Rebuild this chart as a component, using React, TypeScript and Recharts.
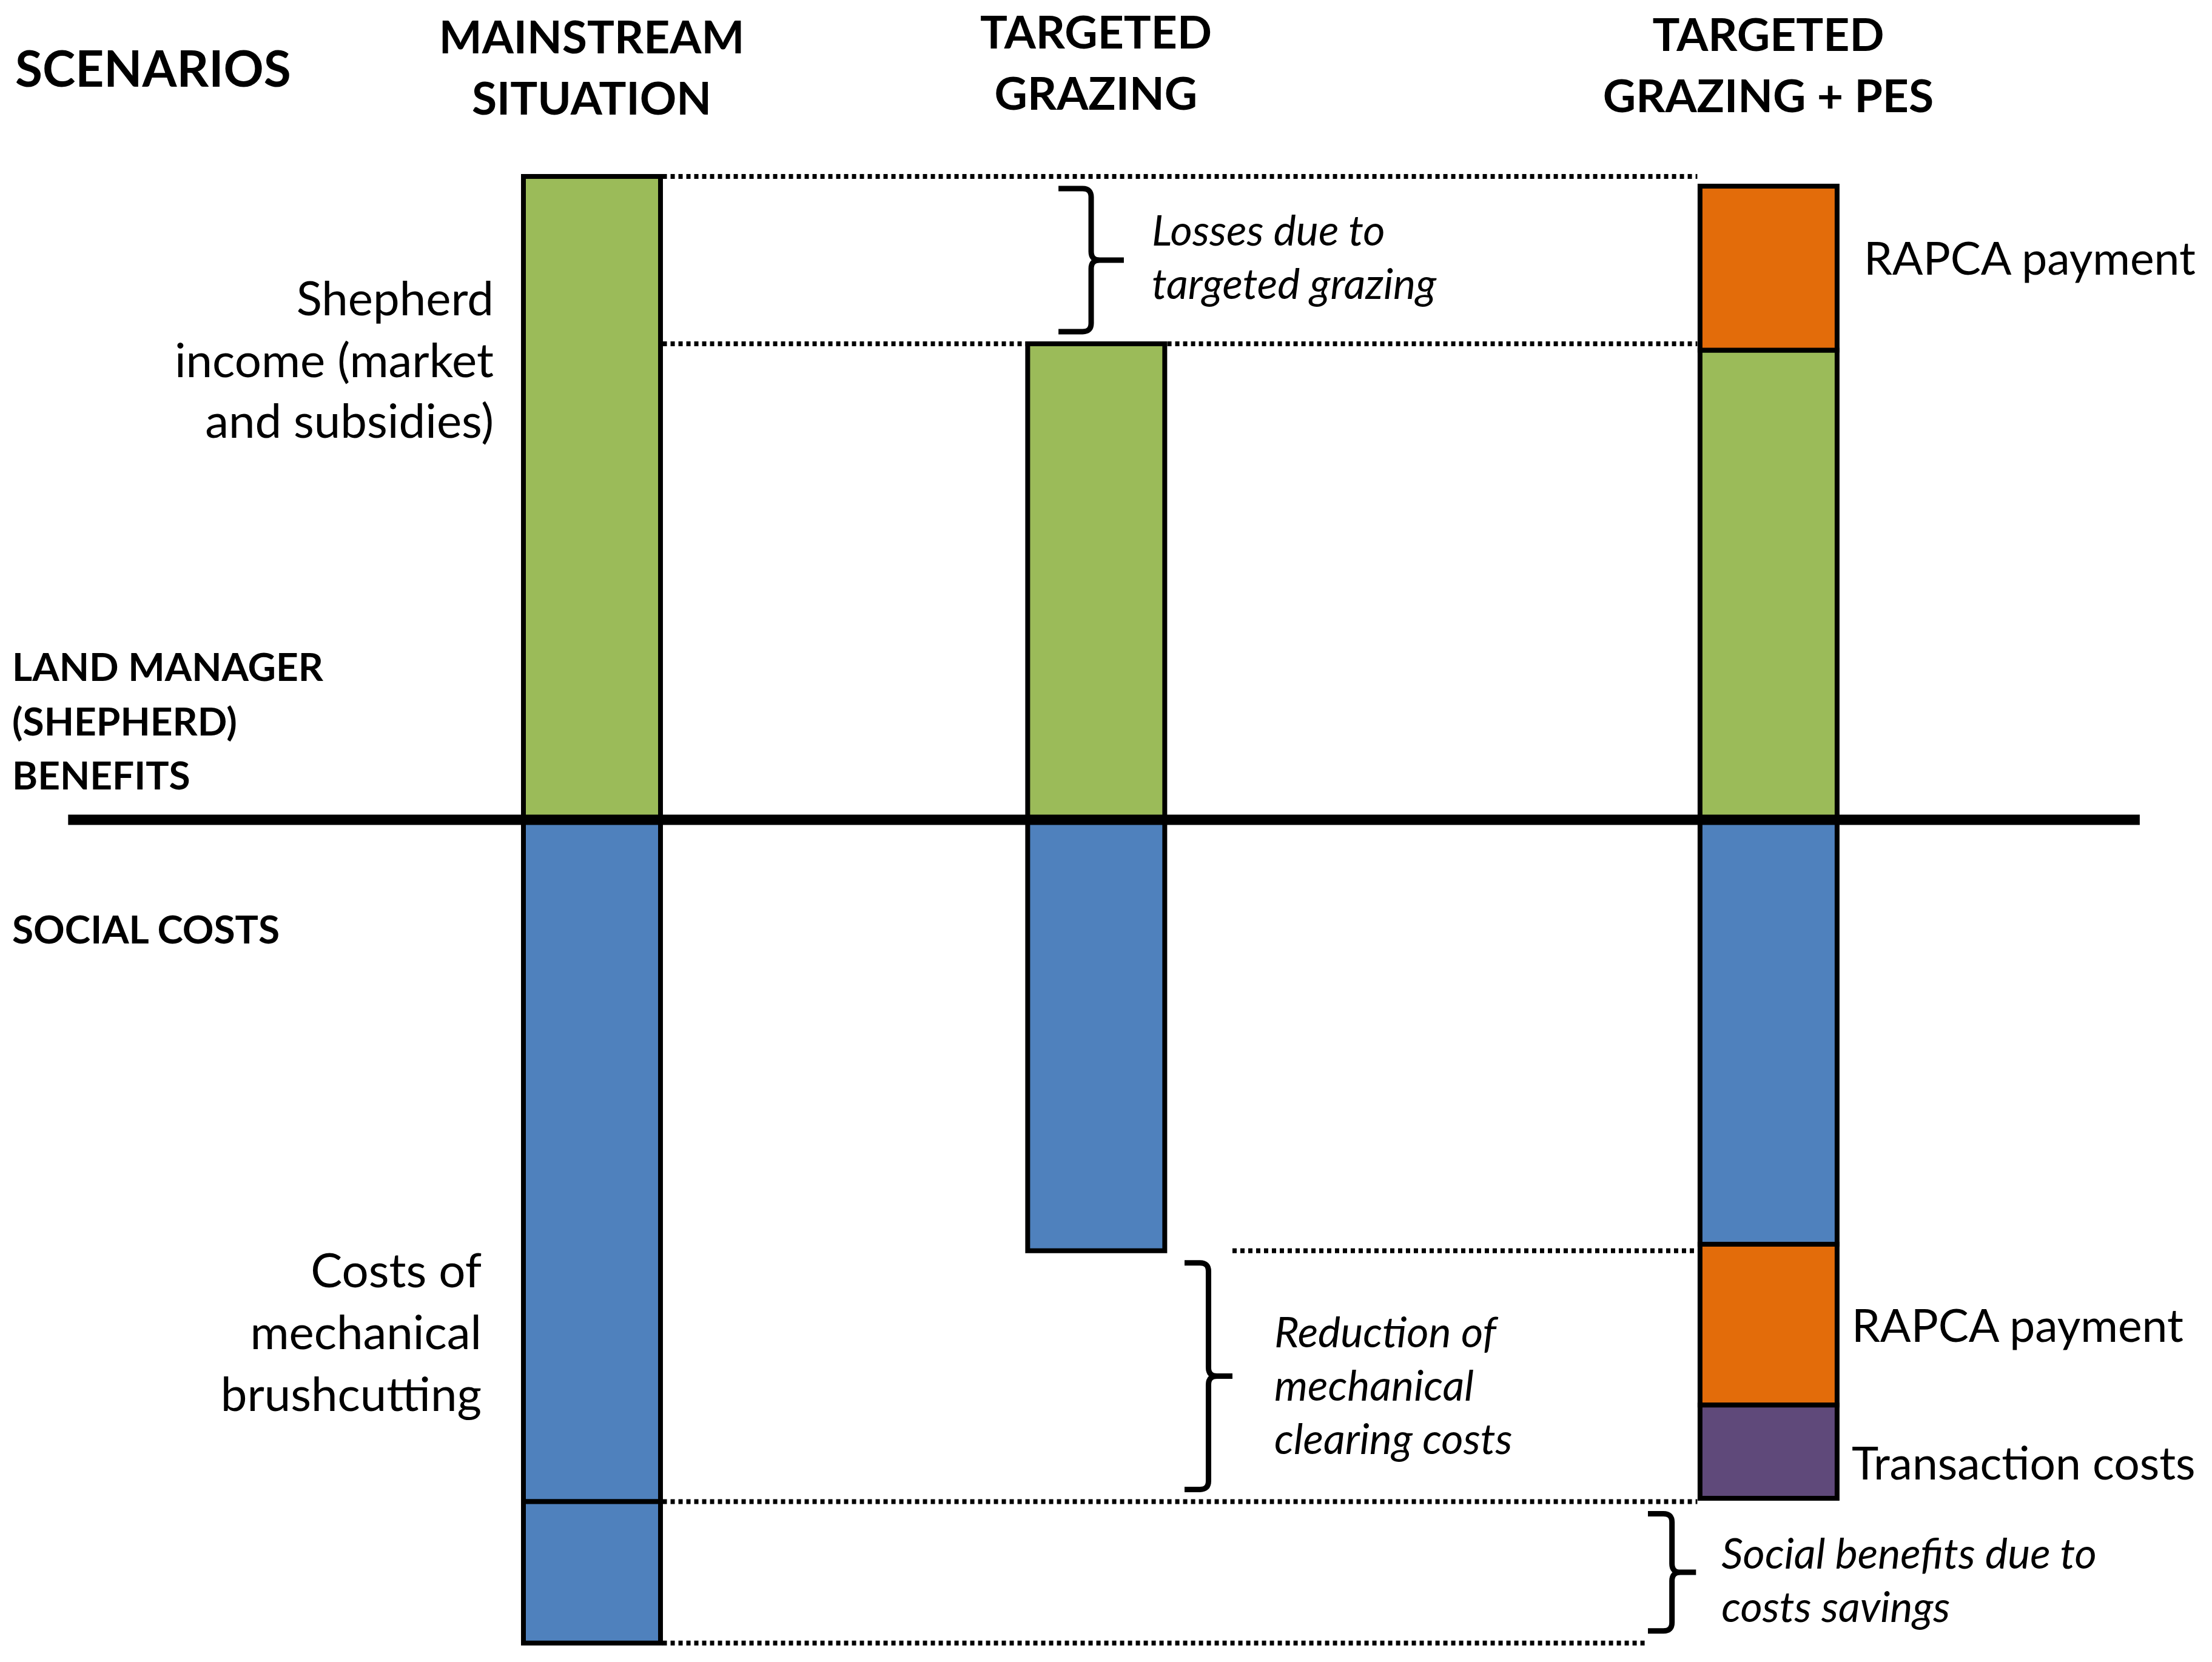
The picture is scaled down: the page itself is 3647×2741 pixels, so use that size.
import React from 'react';
import { BarChart, Bar, XAxis, YAxis, ReferenceLine, ReferenceArea, LabelList } from 'recharts';

const W = 3647;
const H = 2741;

// column headings
const scenarios = ['MAINSTREAM SITUATION', 'TARGETED GRAZING', 'TARGETED GRAZING + PES'];
const titleLines = [['MAINSTREAM', 'SITUATION'], ['TARGETED', 'GRAZING'], ['TARGETED', 'GRAZING + PES']];

// land manager benefits (above zero), arbitrary units
const shepherdIncome = [100, 74, 73];
const rapcaPaymentIn = [0, 0, 25.5];

// social costs (below zero)
const brushcuttingCosts = [-106, -67, -66];
const brushcuttingExtra = [-22, 0, 0];
const rapcaPaymentOut = [0, 0, -25];
const transactionCosts = [0, 0, -14.5];

// layout: scenarios sit on an 8-slot band axis, uneven gaps as in the original
const SLOTS = 8;
const slotOf = [0, 3, 7];
const MARGIN = { top: 0, right: 593, bottom: 10, left: 837 };
const AXIS_H = 185;
const BAR = 226;
const STROKE = 8;
const slotW = (W - MARGIN.left - MARGIN.right) / SLOTS;
const half = (BAR / 2 + STROKE / 2) / slotW;
const edgeL = (i: number) => slotOf[i] + 0.5 - half;
const edgeR = (i: number) => slotOf[i] + 0.5 + half;

const FONT = 'Lato, "Open Sans", sans-serif';
const GREEN = '#9BBB59';
const BLUE = '#4F81BD';
const ORANGE = '#E36C0A';
const PURPLE = '#5F497A';

const rows = Array.from({ length: SLOTS }, (_, s) => {
  const i = slotOf.indexOf(s);
  if (i < 0) return { name: `gap-${s}`, slot: s + 0.5 };
  return {
    name: scenarios[i],
    slot: s + 0.5,
    shepherdIncome: shepherdIncome[i],
    rapcaPaymentIn: rapcaPaymentIn[i],
    brushcuttingCosts: brushcuttingCosts[i],
    brushcuttingExtra: brushcuttingExtra[i],
    rapcaPaymentOut: rapcaPaymentOut[i],
    transactionCosts: transactionCosts[i],
  };
});

const posTop = (i: number) => shepherdIncome[i] + rapcaPaymentIn[i];
const mainBottom = brushcuttingCosts[0] + brushcuttingExtra[0];

const titleBase = [88, 80, 84];

function TitleTick(props: any) {
  const i = scenarios.indexOf(props.payload?.value);
  if (i < 0) return <g />;
  return (
    <g>
      {titleLines[i].map((t, k) => (
        <text key={k} x={props.x} y={titleBase[i] + k * 101} textAnchor="middle"
          fontFamily={FONT} fontWeight={700} fontSize={75} fill="#000">{t}</text>
      ))}
    </g>
  );
}

const sideLabel = (text: string, dx: number, dy: number) => (props: any) => {
  const v = props.viewBox && props.viewBox.width != null ? props.viewBox : props;
  const { x, y, width, height } = v;
  if (!height || Math.abs(height) < 1) return <g />;
  return (
    <text x={x + width + dx} y={y + height / 2 + dy} fontFamily={FONT} fontSize={75} fill="#000">{text}</text>
  );
};

const braces = [
  { x1: 3.277, x2: 3.666, y1: posTop(1), y2: posTop(0), gap: 46, dy: 20, lines: ['Losses due to', 'targeted grazing'] },
  { x1: 4.027, x2: 4.312, y1: brushcuttingCosts[0], y2: brushcuttingCosts[1], gap: 69, dy: 40, lines: ['Reduction of', 'mechanical', 'clearing costs'] },
  { x1: 6.784, x2: 7.07, y1: mainBottom, y2: brushcuttingCosts[0], gap: 42, dy: 38, lines: ['Social benefits due to', 'costs savings'] },
];

const braceShape = (lines: string[], gap: number, dy: number) => (p: any) => {
  const { x, y, width, height } = p;
  const inset = 20;
  const top = y + inset;
  const bot = y + height - inset;
  const mid = (top + bot) / 2;
  const xs = x + width / 2;
  const xt = x + width;
  const r = 14;
  const d = `M${x},${top} L${xs - r},${top} Q${xs},${top} ${xs},${top + r} L${xs},${mid - r} Q${xs},${mid} ${xs + r},${mid} L${xt},${mid} M${xs + r},${mid} Q${xs},${mid} ${xs},${mid + r} L${xs},${bot - r} Q${xs},${bot} ${xs - r},${bot} L${x},${bot}`;
  const n = lines.length;
  return (
    <g>
      <path d={d} fill="none" stroke="#000" strokeWidth={9} />
      {lines.map((t, k) => (
        <text key={k} x={xt + gap} y={mid + (k - (n - 1) / 2) * 88 + dy} fontFamily={FONT}
          fontStyle="italic" fontSize={70} fill="#000">{t}</text>
      ))}
    </g>
  );
};

const dotted = [
  { y: posTop(0), from: edgeR(0), to: edgeL(2) },
  { y: posTop(1), from: edgeR(0), to: edgeL(2) },
  { y: brushcuttingCosts[1], from: braces[1].x2, to: edgeL(2) },
  { y: brushcuttingCosts[0], from: edgeR(0), to: edgeL(2) },
  { y: mainBottom, from: edgeR(0), to: braces[2].x1 },
];

const barProps = { stackId: 's', stroke: '#000', strokeWidth: STROKE, isAnimationActive: false };

export default function App() {
  return (
    <div style={{ position: 'absolute', left: 0, top: 0, width: W, height: H, background: '#fff' }}>
      <BarChart width={W} height={H} data={rows} margin={MARGIN} barSize={BAR} stackOffset="sign">
        <XAxis dataKey="name" orientation="top" height={AXIS_H} axisLine={false} tickLine={false}
          interval={0} tick={(p: any) => <TitleTick {...p} />} />
        <XAxis xAxisId="slot" dataKey="slot" type="number" domain={[0, SLOTS]} allowDataOverflow hide />
        <YAxis type="number" domain={[-130, 110]} allowDataOverflow hide />
        {dotted.map((l, k) => (
          <ReferenceLine key={k} xAxisId="slot" ifOverflow="visible"
            segment={[{ x: l.from, y: l.y }, { x: l.to, y: l.y }]}
            stroke="#000" strokeWidth={8} strokeDasharray="7 6" />
        ))}
        <Bar dataKey="shepherdIncome" fill={GREEN} {...barProps} />
        <Bar dataKey="rapcaPaymentIn" fill={ORANGE} {...barProps}>
          <LabelList content={sideLabel('RAPCA payment', 44, 11)} />
        </Bar>
        <Bar dataKey="brushcuttingCosts" fill={BLUE} {...barProps} />
        <Bar dataKey="brushcuttingExtra" fill={BLUE} {...barProps} />
        <Bar dataKey="rapcaPaymentOut" fill={ORANGE} {...barProps}>
          <LabelList content={sideLabel('RAPCA payment', 24, 28)} />
        </Bar>
        <Bar dataKey="transactionCosts" fill={PURPLE} {...barProps}>
          <LabelList content={sideLabel('Transaction costs', 24, 46)} />
        </Bar>
        <ReferenceLine xAxisId="slot" ifOverflow="visible"
          segment={[{ x: -2.615, y: 0 }, { x: 9.71, y: 0 }]} stroke="#000" strokeWidth={17} />
        {braces.map((b, k) => (
          <ReferenceArea key={k} xAxisId="slot" ifOverflow="visible" x1={b.x1} x2={b.x2} y1={b.y1} y2={b.y2}
            shape={braceShape(b.lines, b.gap, b.dy)} />
        ))}
      </BarChart>
      <svg width={W} height={H} style={{ position: 'absolute', left: 0, top: 0, pointerEvents: 'none' }}>
        <g fontFamily={FONT} fill="#000">
          <text x={25} y={143} fontWeight={700} fontSize={82}>SCENARIOS</text>
          <text x={20} y={1123} fontWeight={700} fontSize={64}>LAND MANAGER</text>
          <text x={20} y={1213} fontWeight={700} fontSize={64}>(SHEPHERD)</text>
          <text x={20} y={1302} fontWeight={700} fontSize={64}>BENEFITS</text>
          <text x={20} y={1556} fontWeight={700} fontSize={64}>SOCIAL COSTS</text>
          <g textAnchor="end" fontSize={78}>
            <text x={814} y={520}>Shepherd</text>
            <text x={814} y={622}>income (market</text>
            <text x={814} y={722}>and subsidies)</text>
            <text x={794} y={2123}>Costs of</text>
            <text x={794} y={2225}>mechanical</text>
            <text x={794} y={2327}>brushcutting</text>
          </g>
        </g>
      </svg>
    </div>
  );
}
